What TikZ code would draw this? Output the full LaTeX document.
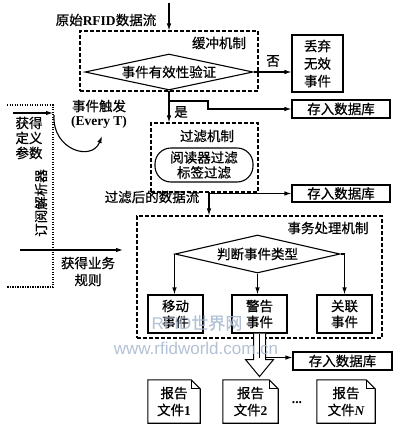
\documentclass[tikz,border=0pt]{standalone}
\usepackage{fontspec}
\setmainfont{Liberation Serif}
\newfontfamily\zhfont{Noto Sans CJK SC}[FakeBold=0.6]
\newfontfamily\wmfont{Liberation Sans}
\usetikzlibrary{arrows.meta,shapes.geometric,calc}
\newcommand\latn[1]{{\rmfamily\bfseries #1}}
\definecolor{wmcol}{RGB}{165,182,205}
\begin{document}
\begin{tikzpicture}[x=1pt,y=-1pt,
  every node/.style={inner sep=0pt, font=\zhfont\fontsize{13.5}{16}\selectfont},
  box/.style={draw, line width=1.1pt, align=center},
  mech/.style={draw, line width=1.1pt, dash pattern=on 4pt off 2pt},
  dia/.style={draw, diamond, line width=1.1pt, inner sep=0pt},
  arr/.style={line width=1.1pt, -{Latex[length=7pt,width=4.5pt]}},
  dotline/.style={line width=1.1pt, dash pattern=on 1.2pt off 1.3pt},
  lbl/.style={align=center},
  docbox/.style={align=center, minimum height=43pt},
  docline/.style={line width=1.1pt, line join=miter}
]
\useasboundingbox (0,0) rectangle (401,426);

% ---------- buffer mechanism ----------
\node[mech, minimum width=178pt, minimum height=60pt] (buf) at (169,61) {};
\node (bufl) at (219,43) {缓冲机制};
\node[dia, minimum width=168pt, minimum height=36pt, aspect=4.6] (valid) at (169,72) {事件有效性验证};
\coordinate (in0) at (169,3);
\draw[arr] (in0) -- (buf.north);
\node (raw) at (106,20) {原始\latn{RFID}数据流};

% discard
\node[box, minimum width=51pt, minimum height=57pt, font=\zhfont\fontsize{13.5}{17.5}\selectfont] (drop) at (317.5,63.5) {丢弃\\无效\\事件};
\draw[arr] (valid.east) -- (valid.east -| drop.west);
\node (no) at (273,61) {否};

% ---------- filter mechanism ----------
\node[mech, minimum width=107pt, minimum height=69pt] (filt) at (204.5,157.5) {};
\node (filtl) at (207,136) {过滤机制};
\node[draw, line width=1.1pt, rounded corners=16pt, minimum width=98pt, minimum height=34pt, align=center, font=\zhfont\fontsize{13.5}{15}\selectfont] (rdr) at (204,165) {阅读器过滤\\标签过滤};
\draw[arr] (valid.south) -- (valid.south |- filt.north);
\node (yes) at (181,112) {是};

\node[box, minimum width=98pt, minimum height=18pt] (db1) at (341,109) {存入数据库};
\coordinate (b1) at (169,101);
\draw[arr] (b1) -- ++(39,0) |- (db1.west);

% ---------- after filter ----------
\node[box, minimum width=98pt, minimum height=17pt] (db2) at (341,193.5) {存入数据库};
\node (flow) at (152,197) {过滤后的数据流};

% ---------- business mechanism ----------
\node[mech, minimum width=245pt, minimum height=122pt] (biz) at (259.5,277) {};
\node (bizl) at (328,228) {事务处理机制};
\coordinate (f0) at (209,192);
\coordinate (f1) at (209,193.5);
\draw[arr] (f0) -- (f0 |- biz.north);
\draw[arr] (f1) -- (db2.west);

\node[dia, minimum width=165pt, minimum height=38pt, aspect=4.3] (judge) at (257.5,254) {判断事件类型};
\node[box, minimum width=55pt, minimum height=38pt] (mv) at (175.5,314) {移动\\事件};
\node[box, minimum width=55pt, minimum height=38pt] (warn) at (259.5,314) {警告\\事件};
\node[box, minimum width=55pt, minimum height=38pt] (rel) at (344.5,314) {关联\\事件};
\draw[arr] (judge.west) -- (judge.west |- mv.north);
\draw[arr] (judge.south) -- (judge.south |- warn.north);
\draw[arr] (judge.east) -| (rel.north);

% hollow arrow
\draw[line width=1pt, line join=miter, fill=white]
  ($(warn.south)+(-6,0)$) -- ++(0,26) -- ++(-8,0) -- ($(warn.south)+(0,43)$)
  -- ($(warn.south)+(14,26)$) -- ++(-8,0) -- ($(warn.south)+(6,0)$);
\draw[line width=0.8pt] (warn.south) -- ++(0,24);
\node[box, minimum width=99pt, minimum height=18pt] (db4) at (342.5,361) {存入数据库};
\coordinate (h1) at ($(warn.south)+(6,24)$);
\draw[arr] (h1) -- (h1 -| db4.west);

% ---------- report files ----------
\node[docbox, minimum width=52pt] (r1) at (174,401.5) {报告\\[1pt]文件\latn{1}};
\node[docbox, minimum width=55pt] (r2) at (250.5,401.5) {报告\\[1pt]文件\latn{2}};
\node[docbox, minimum width=58pt] (rn) at (346,401.5) {报告\\[1pt]文件{\rmfamily\bfseries\itshape N}};
\foreach \r in {r1,r2,rn}{
  \draw[docline] (\r.south west) -- (\r.north west) -- ($(\r.north east)+(-9,0)$)
     -- ($(\r.north east)+(0,9)$) -- (\r.south east) -- cycle;
  \draw[docline] ($(\r.north east)+(-9,0)$) -- ($(\r.north east)+(-9,9)$) -- ($(\r.north east)+(0,9)$);
}
\node (dots) at (297,403) {\latn{...}};

% ---------- subscription / parser ----------
\coordinate (sa) at (7,105);
\coordinate (sb) at (53,105);
\coordinate (sc) at (53,287);
\coordinate (sd) at (7,287);
\draw[dotline] (sa) -- (sb) -- (sc) -- (sd);
\coordinate (p0) at (13,113);
\coordinate (p1) at (53,113);
\draw[arr] (p0) -- (p1);
\coordinate (p2) at (102,136);
\draw[arr] (54,115) .. controls (52,150) and (92,162) .. (p2);
\node[lbl] (trig) at (99,106) {事件触发};
\node[lbl] (every) at (99,122) {\latn{(Every T)}};
\node[lbl, font=\zhfont\fontsize{13.5}{15}\selectfont] (param) at (29,138) {获得\\定义\\参数};
\node[rotate=90] (parser) at (41,203) {订阅解析器};
\coordinate (q0) at (20,250);
\coordinate (q1) at (123,250);
\draw[arr] (q0) -- (q1);
\node[lbl, font=\zhfont\fontsize{13.5}{17}\selectfont] (rule) at (88,271.5) {获得业务\\规则};

% ---------- watermark ----------
\node[text=wmcol, opacity=0.85, font=\wmfont\fontsize{17}{19}\selectfont] (wm1) at (197,323) {RFID{\zhfont 世界网}};
\node[text=wmcol, opacity=0.85, font=\wmfont\fontsize{17}{19}\selectfont] (wm2) at (196,348) {www.rfidworld.com.cn};
\end{tikzpicture}
\end{document}
